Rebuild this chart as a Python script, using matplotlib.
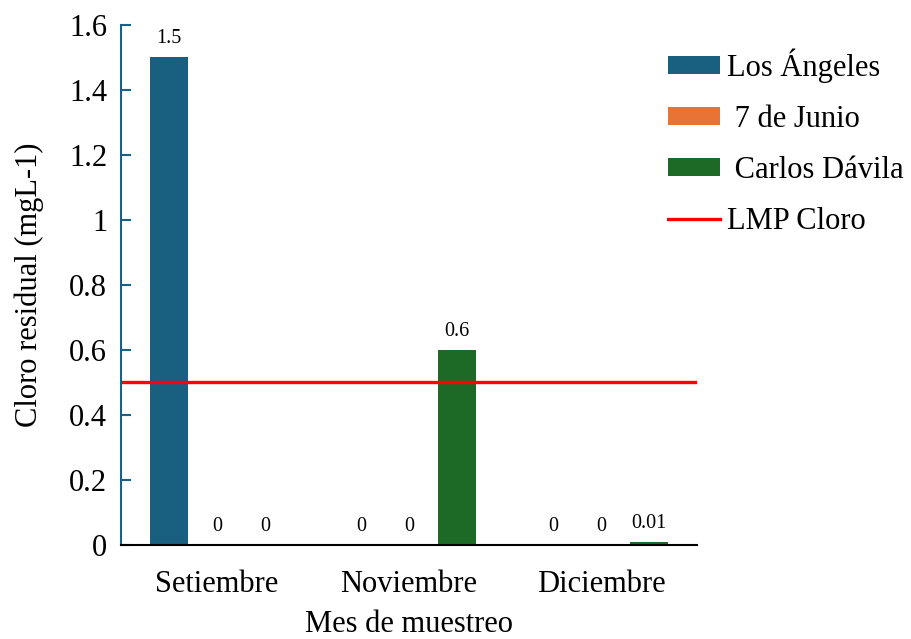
import numpy as np
import matplotlib
matplotlib.use("Agg")
import matplotlib.pyplot as plt

plt.rcParams['font.family'] = ['Liberation Serif', 'DejaVu Serif']

meses = ['Setiembre', 'Noviembre', 'Diciembre']
series = ['Los Ángeles', ' 7 de Junio', ' Carlos Dávila']
los_angeles = [1.5, 0, 0]
siete_junio = [0, 0, 0]
carlos_davila = [0, 0.6, 0.01]
lmp_cloro = 0.5

colores = ['#195f80', '#e97235', '#1d6a27']
azul_eje = '#1a6185'

fig = plt.figure(figsize=(9.12, 6.39), dpi=100)
ax = fig.add_axes([0.1327, 0.1471, 0.6316, 0.8138])

x = np.arange(len(meses))
ancho = 0.2
paso = 0.25
valores = [los_angeles, siete_junio, carlos_davila]
barras_leg = []
for i, (nombre, vals, c) in enumerate(zip(series, valores, colores)):
    barras = ax.bar(x + (i - 1) * paso, vals, ancho, color=c, label=nombre)
    ax.bar_label(barras, labels=[f'{v:g}' for v in vals], padding=6.5, fontsize=14.5)
    barras_leg.append(barras)

linea = ax.axhline(lmp_cloro, color='#ff0000', lw=2.4, label='LMP Cloro')

ax.set_xlim(-0.5, 2.5)
ax.set_ylim(0, 1.6)
ax.set_yticks(np.arange(0, 1.61, 0.2))
ax.set_yticklabels(['0', '0.2', '0.4', '0.6', '0.8', '1', '1.2', '1.4', '1.6'])
ax.set_xticks(x)
ax.set_xticklabels(meses)

ax.tick_params(axis='y', direction='in', length=7, width=1.5, color=azul_eje,
               labelsize=22, pad=10)
ax.tick_params(axis='x', length=0, labelsize=22, pad=18)

for lado in ['top', 'right']:
    ax.spines[lado].set_visible(False)
ax.spines['left'].set_color(azul_eje)
ax.spines['left'].set_linewidth(1.5)
ax.spines['bottom'].set_color('black')
ax.spines['bottom'].set_linewidth(1.5)

ax.set_xlabel('Mes de muestreo', fontsize=22, labelpad=8)
ax.set_ylabel('Cloro residual (mgL-1)', fontsize=22, labelpad=18)

ax.legend(barras_leg + [linea], series + ['LMP Cloro'],
          loc='upper left', bbox_to_anchor=(0.95, 0.955), frameon=False,
          fontsize=22, handlelength=1.7, handleheight=0.55, borderpad=0,
          handletextpad=0.23, labelspacing=0.72, borderaxespad=0)

plt.savefig('out.png', dpi=100)
